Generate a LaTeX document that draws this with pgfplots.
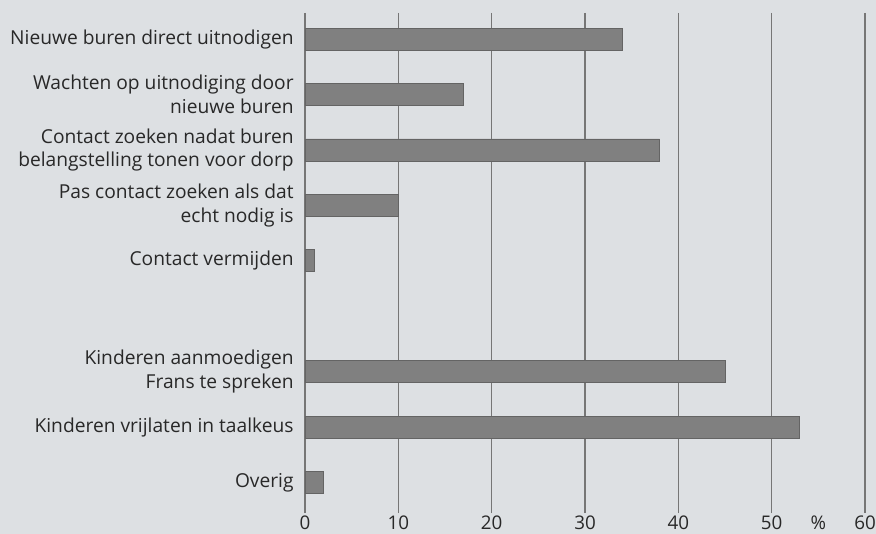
\documentclass[border=0pt]{standalone}
\usepackage{pgfplots}
\pgfplotsset{compat=1.18}
\usepackage{fontspec}
\setmainfont{Open Sans}
\definecolor{pageGray}{RGB}{221,224,227}
\definecolor{barGray}{RGB}{128,128,128}
\definecolor{barEdge}{RGB}{100,100,100}
\definecolor{gridGray}{RGB}{118,118,118}
\definecolor{textGray}{RGB}{40,40,40}

\begin{document}
\begin{tikzpicture}
    % page background, also the bounding box
    \path[use as bounding box, fill=pageGray] (-152.5pt,-14pt) rectangle (285.5pt,253pt);
    \begin{axis}[
        scale only axis,
        width=280pt, height=246.5pt,
        xbar,
        bar width=11pt,
        y dir=reverse,
        xmin=0, xmax=60,
        ymin=-0.47, ymax=8.42,
        xtick={0,10,20,30,40,50,60},
        xtick pos=bottom,
        tick align=outside,
        major tick length=3.5pt,
        tick style={gridGray, line width=0.6pt},
        xmajorgrids,
        grid style={gridGray, line width=0.6pt},
        axis line style={draw=none},
        ytick={0,1,2,3,4,6,7,8},
        yticklabels={
            Nieuwe buren direct uitnodigen,
            {Wachten op uitnodiging door\\nieuwe buren},
            {Contact zoeken nadat buren\\belangstelling tonen voor dorp},
            {Pas contact zoeken als dat\\echt nodig is},
            Contact vermijden,
            {Kinderen aanmoedigen\\Frans te spreken},
            Kinderen vrijlaten in taalkeus,
            Overig
        },
        ytick style={draw=none},
        yticklabel style={align=right, font=\fontsize{9.6}{11.8}\selectfont, text=textGray, inner sep=0pt, xshift=-2pt},
        xticklabel style={font=\fontsize{9.4}{11}\selectfont, text=textGray, inner sep=0pt, yshift=-1.2pt},
        /pgf/number format/assume math mode=true,
        extra x ticks={55},
        extra x tick labels={\%},
        extra x tick style={grid=none, tick style={draw=none}},
    ]
        \addplot[fill=barGray, draw=barEdge, line width=0.4pt] coordinates {
            (34,0) (17,1) (38,2) (10,3) (1,4) (45,6) (53,7) (2,8)
        };
    \end{axis}
\end{tikzpicture}
\end{document}
